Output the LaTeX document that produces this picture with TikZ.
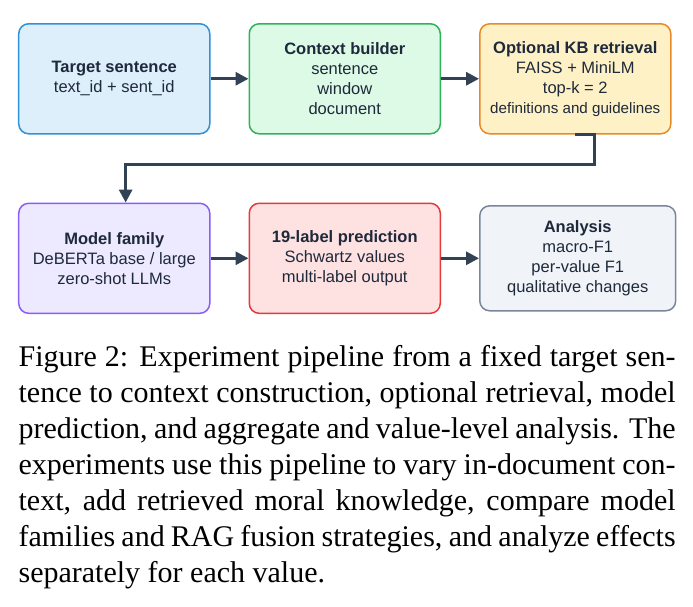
\documentclass[tikz,border=0pt]{standalone}
\usepackage{fontspec}
\setmainfont{Liberation Serif}
\newfontfamily\boxfont{Liberation Sans}
\usepackage{tikz}
\usetikzlibrary{arrows.meta, positioning, calc}
\definecolor{ink}{HTML}{1E293B}
\definecolor{wire}{HTML}{334155}
\definecolor{blueline}{HTML}{2F91D8}
\definecolor{bluebg}{HTML}{DEEFFC}
\definecolor{greenline}{HTML}{2FB35A}
\definecolor{greenbg}{HTML}{DCFAE6}
\definecolor{orangeline}{HTML}{E88A2A}
\definecolor{orangebg}{HTML}{FEF1C6}
\definecolor{violetline}{HTML}{8B5CF6}
\definecolor{violetbg}{HTML}{EDE9FE}
\definecolor{redline}{HTML}{E5383B}
\definecolor{redbg}{HTML}{FEE2E2}
\definecolor{slateline}{HTML}{7A869A}
\definecolor{slatebg}{HTML}{F0F4F8}

\begin{document}
\begin{tikzpicture}[
  node distance=12.67pt,
  stage/.style={rounded corners=3.3pt, line width=0.5pt, inner sep=1pt,
                minimum width=63.67pt, minimum height=36.67pt,
                font=\boxfont\fontsize{5.5}{6.67}\selectfont, text=ink, align=center},
  arr/.style={-{Triangle[length=4.3pt, width=4.3pt]}, line width=1pt, color=wire}
]
  \useasboundingbox (0,0) rectangle (231pt,-202pt);

  % Top row
  \node[stage, draw=blueline, fill=bluebg, anchor=north west] (target) at (6pt,-7.67pt)
    {\textbf{Target sentence}\\text\_id + sent\_id};
  \node[stage, draw=greenline, fill=greenbg, right=of target] (context)
    {\textbf{Context builder}\\sentence\\window\\document};
  \node[stage, draw=orangeline, fill=orangebg, right=of context] (kb)
    {\textbf{Optional KB retrieval}\\FAISS + MiniLM\\top-k = 2\\{\fontsize{5.05}{6.67}\selectfont definitions and guidelines}};

  % Bottom row
  \node[stage, draw=violetline, fill=violetbg, below=22.67pt of target] (model)
    {\textbf{Model family}\\DeBERTa base / large\\zero-shot LLMs};
  \node[stage, draw=redline, fill=redbg, right=of model] (pred)
    {\textbf{19-label prediction}\\Schwartz values\\multi-label output};
  \node[stage, draw=slateline, fill=slatebg, right=of pred,
        minimum width=65.3pt, minimum height=35pt] (analysis)
    {\textbf{Analysis}\\macro-F1\\per-value F1\\qualitative changes};

  % Arrows
  \draw[arr] (target) -- (context);
  \draw[arr] (context) -- (kb);
  \draw[arr] (kb.south) -- ++(6.5pt,0) |- ($(model.north)+(3.8pt,12.67pt)$)
    -- ($(model.north)+(3.8pt,0)$);
  \draw[arr] (model) -- (pred);
  \draw[arr] (pred) -- (analysis);

  % Caption
  \node[anchor=north west, inner sep=0pt, text width=219pt, align=justify,
        font=\fontsize{10}{12}\selectfont] (caption) at (6pt,-115pt)
    {Figure 2: Experiment pipeline from a fixed target sentence to context construction, optional retrieval, model prediction, and aggregate and value-level analysis. The experiments use this pipeline to vary in-document context, add retrieved moral knowledge, compare model families and RAG fusion strategies, and analyze effects separately for each value.};
\end{tikzpicture}
\end{document}
